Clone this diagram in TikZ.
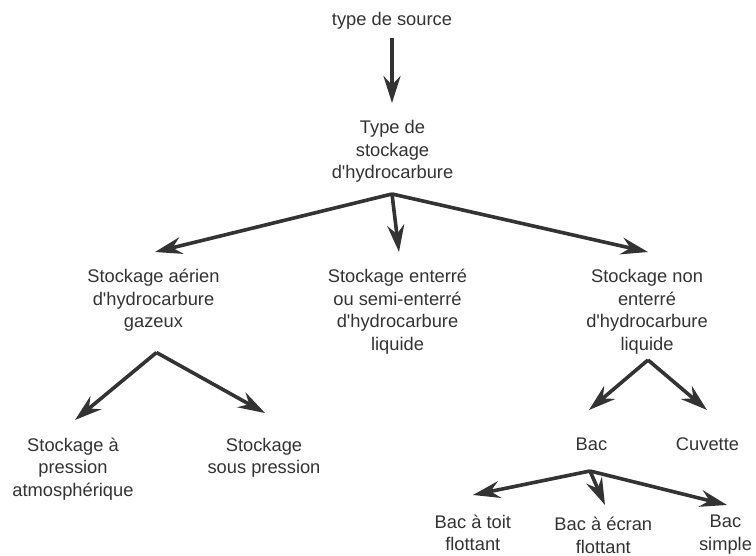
\documentclass[tikz,border=0pt]{standalone}
\usepackage{fontspec}
\setmainfont{Liberation Sans}
\usepackage{xcolor}
\usetikzlibrary{arrows.meta}

\definecolor{gris}{HTML}{333333}
\newcommand{\apo}{\textquotesingle}

\tikzset{
	boite/.style={align=center, inner sep=0pt, text=gris,
		font=\fontsize{18.3}{22.6}\selectfont},
	fleche/.style={draw=gris, line width=3.6pt,
		-{Stealth[length=27pt, width=17pt, inset=9pt]}}
}

\begin{document}
\begin{tikzpicture}[x=1pt, y=-1pt]
		\useasboundingbox (0,0) rectangle (756,556);

		% Boxes
		\node (src) at (392,20.3) [boite] {type de source};
		\node (type) at (392.5,151.4) [boite] {Type de\\stockage\\d\apo hydrocarbure};
		\node (aerien) at (153.5,300.3) [boite] {Stockage aérien\\d\apo hydrocarbure\\gazeux};
		\node (enterre) at (397.5,311.8) [boite] {Stockage enterré\\ou semi-enterré\\d\apo hydrocarbure\\liquide};
		\node (nonent) at (647,311.8) [boite] {Stockage non\\enterré\\d\apo hydrocarbure\\liquide};
		\node (atm) at (73,468.9) [boite] {Stockage à\\pression\\atmosphérique};
		\node (sous) at (264,457.6) [boite] {Stockage\\sous pression};
		\node (bac) at (591.5,444.5) [boite] {Bac};
		\node (cuv) at (707.5,444.5) [boite] {Cuvette};
		\node (toit) at (472.8,532.7) [boite] {Bac à toit\\flottant};
		\node (ecran) at (603.3,535.2) [boite] {Bac à écran\\flottant};
		\node (simple) at (725.5,534.6) [boite] {Bac\\simple};

		% Branch points and arrow ends
		\coordinate (s0) at (392,38);
		\coordinate (e0) at (392,103);
		\coordinate (s1) at (392,194);
		\coordinate (e1a) at (155,252);
		\coordinate (e1b) at (399,252);
		\coordinate (e1c) at (648,252);
		\coordinate (s2) at (156.5,352.5);
		\coordinate (e2a) at (75,420);
		\coordinate (e2b) at (265,413);
		\coordinate (s3) at (648,360);
		\coordinate (e3a) at (589,410);
		\coordinate (e3b) at (707,410);
		\coordinate (s4) at (590,471);
		\coordinate (e4a) at (473,495);
		\coordinate (e4b) at (605,505);
		\coordinate (e4c) at (727,505);

		% Arrows
		\draw[fleche] (s0) -- (e0);
		\draw[fleche] (s1) -- (e1a);
		\draw[fleche] (s1) -- (e1b);
		\draw[fleche] (s1) -- (e1c);
		\draw[fleche] (s2) -- (e2a);
		\draw[fleche] (s2) -- (e2b);
		\draw[fleche] (s3) -- (e3a);
		\draw[fleche] (s3) -- (e3b);
		\draw[fleche] (s4) -- (e4a);
		\draw[fleche] (s4) -- (e4b);
		\draw[fleche] (s4) -- (e4c);
	\end{tikzpicture}
\end{document}
